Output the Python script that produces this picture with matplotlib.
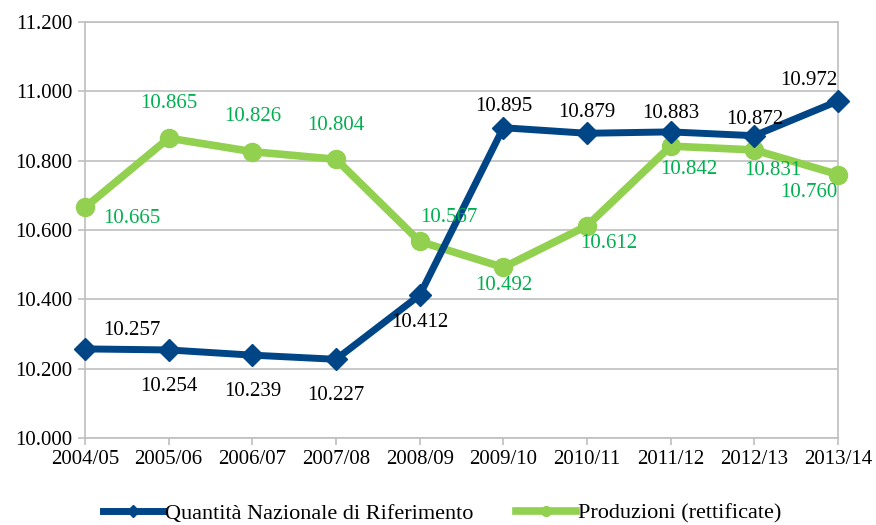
import numpy as np
import matplotlib
matplotlib.use("Agg")
import matplotlib.pyplot as plt
from matplotlib.ticker import FuncFormatter
from matplotlib.lines import Line2D

plt.rcParams['font.family'] = ['Liberation Serif', 'DejaVu Serif']

# dati
stagioni = ["2004/05", "2005/06", "2006/07", "2007/08", "2008/09",
            "2009/10", "2010/11", "2011/12", "2012/13", "2013/14"]
qnr = [10257, 10254, 10239, 10227, 10412, 10895, 10879, 10883, 10872, 10972]
produzioni = [10665, 10865, 10826, 10804, 10567, 10492, 10612, 10842, 10831, 10760]
nomi = ["Quantità Nazionale di Riferimento", "Produzioni (rettificate)"]

# posizione etichette (offset in punti)
off_qnr = [(34, 13), (0, -26), (0, -26), (0, -26), (0, -20),
           (0, 15), (0, 15), (0, 13), (0, 12), (-21, 15)]
off_prod = [(34, -8), (0, 25), (0, 25), (0, 24), (21, 17),
            (0, -13), (16, -13), (13, -17), (13, -15), (-21, -13)]

blu = "#004586"
verde = "#92D050"
verde_testo = "#00B050"
grigio = "#BFBFBF"

def fmt(v, pos=None):
    return f"{int(v):,}".replace(",", ".")

fig = plt.figure(figsize=(8.76, 5.25), dpi=100)
ax = fig.add_axes([85 / 876, 87 / 525, 753 / 876, 416 / 525])

x = np.arange(len(stagioni))
ax.plot(x, qnr, color=blu, lw=5, marker="D", ms=11, clip_on=False, zorder=4)
ax.plot(x, produzioni, color=verde, lw=5.5, marker="o", ms=13, clip_on=False, zorder=3)

for xi, v, o in zip(x, qnr, off_qnr):
    ax.annotate(fmt(v), (xi, v), xytext=o, textcoords="offset points",
                ha="center", va="center", fontsize=15, color="black", zorder=6)
for xi, v, o in zip(x, produzioni, off_prod):
    ax.annotate(fmt(v), (xi, v), xytext=o, textcoords="offset points",
                ha="center", va="center", fontsize=15, color=verde_testo, zorder=6)

ax.set_xlim(0, len(stagioni) - 1)
ax.set_ylim(10000, 11200)
ax.set_yticks(np.arange(10000, 11201, 200))
ax.yaxis.set_major_formatter(FuncFormatter(fmt))
ax.set_xticks(x)
ax.set_xticklabels(stagioni)
ax.tick_params(axis="both", labelsize=15, color=grigio, length=5, width=1.2, pad=4)
ax.grid(axis="y", color=grigio, lw=1.2)
ax.set_axisbelow(True)
for s in ax.spines.values():
    s.set_color(grigio)
    s.set_linewidth(1.2)

# legenda con marker piccoli come in Excel
h1 = Line2D([], [], color=blu, lw=5, marker="D", ms=6)
h2 = Line2D([], [], color=verde, lw=5.5, marker="o", ms=7)
fig.legend([h1, h2], nomi, loc="center", bbox_to_anchor=(0.505, 0.022), ncol=2,
           frameon=False, fontsize=16, handlelength=2.7, handletextpad=0.1,
           columnspacing=1.9, borderaxespad=0)

fig.savefig("out.png", dpi=100, facecolor="white")
